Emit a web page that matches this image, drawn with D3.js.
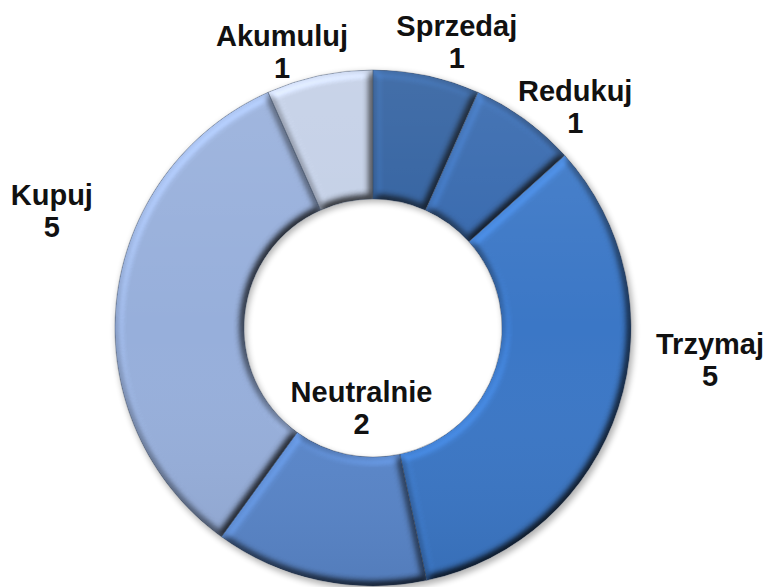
<!DOCTYPE html>
<html>
<head>
<meta charset="utf-8">
<script src="https://cdn.jsdelivr.net/npm/d3@7"></script>
<style>
  body { margin: 0; background: #fff; }
  text { font-family: "Liberation Sans", Arial, sans-serif; font-weight: bold; }
</style>
</head>
<body>
<div id="chart"></div>
<script>
const width = 768;
const height = 587;

// data
const categories = ["Sprzedaj", "Redukuj", "Trzymaj", "Neutralnie", "Kupuj", "Akumuluj"];
const counts = [1, 1, 5, 2, 5, 1];
const colors = ["#2f5f9f", "#3467ad", "#3b77c6", "#5a87cb", "#97afdb", "#c3cfe6"];

// label anchor (first baseline), polar from the centre: angle in degrees clockwise from top, distance
const labelAngles = [16, 41.7, 94.4, 188.8, -69, -17.9];
const labelDist = [304, 304, 338, 75, 344, 296];

const cx = 373, cy = 328;
const outerR = 258, innerR = 129;

const svg = d3.select("#chart")
  .append("svg")
  .attr("width", width)
  .attr("height", height);

const defs = svg.append("defs");

// soft round bevel: diffuse light, a little brighter on edges facing top-left
const bevel = defs.append("filter")
  .attr("id", "bevel")
  .attr("color-interpolation-filters", "sRGB")
  .attr("x", "-10%").attr("y", "-10%")
  .attr("width", "120%").attr("height", "120%");
bevel.append("feGaussianBlur")
  .attr("in", "SourceAlpha").attr("stdDeviation", 4).attr("result", "blur");
bevel.append("feDiffuseLighting")
  .attr("in", "blur").attr("surfaceScale", 6).attr("diffuseConstant", 0.924)
  .attr("lighting-color", "#fff").attr("result", "diff")
  .append("feDistantLight").attr("azimuth", 235).attr("elevation", 60);
bevel.append("feComposite")
  .attr("in", "SourceGraphic").attr("in2", "diff")
  .attr("operator", "arithmetic").attr("k1", 1.25).attr("k2", 0).attr("k3", 0).attr("k4", 0)
  .attr("result", "lit");
bevel.append("feComposite")
  .attr("in", "lit").attr("in2", "SourceAlpha").attr("operator", "in");

const shadow = defs.append("filter")
  .attr("id", "shadow")
  .attr("x", "-20%").attr("y", "-20%")
  .attr("width", "140%").attr("height", "140%");
shadow.append("feGaussianBlur").attr("stdDeviation", 3);

// vertical light over the whole ring
const sheen = defs.append("linearGradient")
  .attr("id", "sheen")
  .attr("x1", 0).attr("y1", 0).attr("x2", 0).attr("y2", 1);
sheen.append("stop").attr("offset", "0%").attr("stop-color", "#fff").attr("stop-opacity", 0.1);
sheen.append("stop").attr("offset", "50%").attr("stop-color", "#fff").attr("stop-opacity", 0);
sheen.append("stop").attr("offset", "100%").attr("stop-color", "#000").attr("stop-opacity", 0.08);

const pie = d3.pie()
  .value(d => d.value)
  .sort(null);

const arc = d3.arc()
  .innerRadius(innerR)
  .outerRadius(outerR);

const data = categories.map((c, i) => ({ name: c, value: counts[i], color: colors[i] }));
const arcs = pie(data);

const g = svg.append("g")
  .attr("transform", `translate(${cx},${cy})`);

// shadow ring behind
g.append("path")
  .attr("d", d3.arc().innerRadius(innerR).outerRadius(outerR + 1).startAngle(0).endAngle(2 * Math.PI)())
  .attr("transform", "translate(2,3)")
  .attr("fill", "#000")
  .attr("opacity", 0.3)
  .attr("filter", "url(#shadow)");

g.selectAll(".slice")
  .data(arcs)
  .enter()
  .append("path")
  .attr("class", "slice")
  .attr("d", arc)
  .attr("fill", d => d.data.color)
  .attr("filter", "url(#bevel)");

g.selectAll(".edge")
  .data(arcs)
  .enter()
  .append("path")
  .attr("class", "edge")
  .attr("d", arc)
  .attr("fill", "none")
  .attr("stroke", "#2a3f5e")
  .attr("stroke-opacity", 0.35)
  .attr("stroke-width", 1);

g.append("path")
  .attr("d", d3.arc().innerRadius(innerR).outerRadius(outerR).startAngle(0).endAngle(2 * Math.PI)())
  .attr("fill", "url(#sheen)");

// labels
const lineGap = 32;
const labels = svg.selectAll(".label")
  .data(arcs)
  .enter()
  .append("text")
  .attr("class", "label")
  .attr("text-anchor", "middle")
  .attr("font-size", 29)
  .attr("fill", "#111")
  .attr("transform", (d, i) => {
    const a = labelAngles[i] * Math.PI / 180;
    return `translate(${cx + labelDist[i] * Math.sin(a)},${cy - labelDist[i] * Math.cos(a)})`;
  });

labels.append("tspan")
  .attr("x", 0).attr("y", 0)
  .text(d => d.data.name);
labels.append("tspan")
  .attr("x", 0).attr("y", lineGap)
  .text(d => d.data.value);
</script>
</body>
</html>
